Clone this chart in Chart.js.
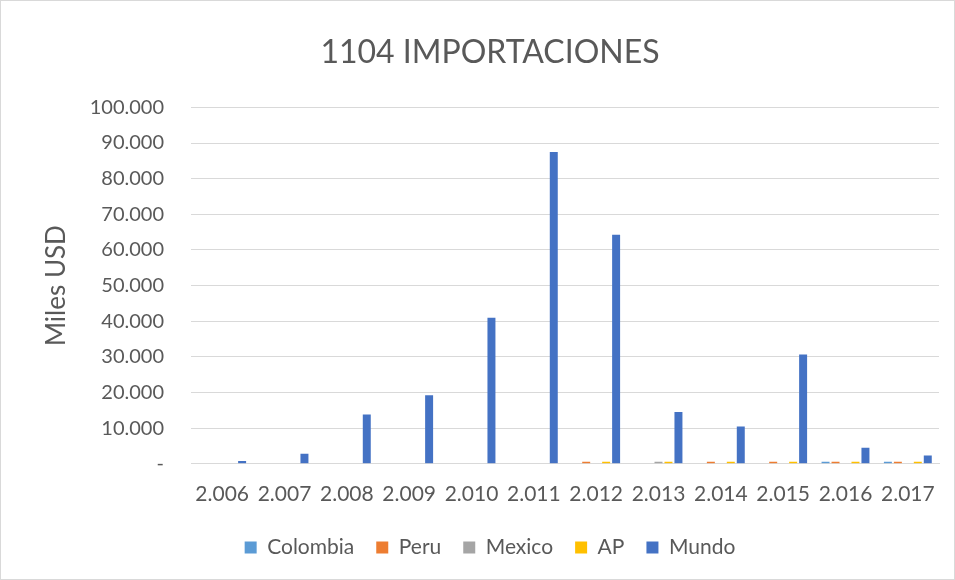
<!DOCTYPE html>
<html>
<head>
<meta charset="utf-8">
<script src="https://cdn.jsdelivr.net/npm/chart.js@4/dist/chart.umd.min.js"></script>
<style>
  html, body { margin: 0; padding: 0; background: #fff; }
  #wrap { width: 953px; height: 578px; border: 1px solid #d9d9d9; }
</style>
</head>
<body>
<div id="wrap"><canvas id="chart" width="953" height="578"></canvas></div>
<script>
const years = ['2.006', '2.007', '2.008', '2.009', '2.010', '2.011', '2.012', '2.013', '2.014', '2.015', '2.016', '2.017']
const colombia = [0, 0, 0, 0, 0, 0, 0, 0, 0, 0, 550, 550]
const peru = [0, 0, 0, 0, 0, 0, 550, 0, 550, 550, 550, 550]
const mexico = [0, 0, 0, 0, 0, 0, 0, 550, 0, 0, 0, 0]
const ap = [0, 0, 0, 0, 0, 0, 550, 550, 550, 550, 550, 550]
const mundo = [800, 2800, 13800, 19200, 41000, 87500, 64300, 14500, 10500, 30700, 4500, 2300]

const fontFam = "Lato, 'Open Sans', 'Liberation Sans', sans-serif"
const grey = '#595959'

const fmt = v => v === 0 ? '-' : v.toLocaleString('de-DE')

function draw() {
  new Chart(document.getElementById('chart'), {
    type: 'bar',
    data: {
      labels: years,
      datasets: [
        { label: 'Colombia', data: colombia, backgroundColor: '#5b9bd5' },
        { label: 'Peru', data: peru, backgroundColor: '#ed7d31' },
        { label: 'Mexico', data: mexico, backgroundColor: '#a5a5a5' },
        { label: 'AP', data: ap, backgroundColor: '#ffc000' },
        { label: 'Mundo', data: mundo, backgroundColor: '#4472c4' }
      ]
    },
    options: {
      responsive: false,
      animation: false,
      datasets: { bar: { barPercentage: 0.8, categoryPercentage: 0.8 } },
      layout: { padding: { left: 40, right: 15, top: 32, bottom: 11 } },
      plugins: {
        title: {
          display: true,
          text: '1104 IMPORTACIONES',
          color: grey,
          font: { family: fontFam, size: 32, weight: 'normal' },
          padding: { top: 0, bottom: 36 }
        },
        legend: {
          position: 'bottom',
          labels: {
            color: grey,
            font: { family: fontFam, size: 21 },
            boxWidth: 12,
            boxHeight: 12,
            padding: 22
          }
        },
        tooltip: { enabled: false }
      },
      scales: {
        x: {
          grid: { display: false },
          border: { color: '#d9d9d9' },
          ticks: { color: grey, font: { family: fontFam, size: 21 }, maxRotation: 0, padding: 10 },
          afterFit: s => { s.height -= 2 }
        },
        y: {
          min: 0,
          max: 100000,
          border: { display: false },
          grid: { color: '#d9d9d9', drawTicks: false },
          ticks: {
            stepSize: 10000,
            color: grey,
            font: { family: fontFam, size: 20 },
            padding: 27,
            callback: fmt
          },
          title: {
            display: true,
            text: 'Miles USD',
            color: grey,
            font: { family: fontFam, size: 26 },
            padding: { top: 0, bottom: 16 }
          },
          afterFit: s => { s.width = 150 }
        }
      }
    }
  })
}

Promise.all([
  document.fonts.load('20px Lato'),
  document.fonts.load('32px Lato')
]).then(draw, draw)
</script>
</body>
</html>
